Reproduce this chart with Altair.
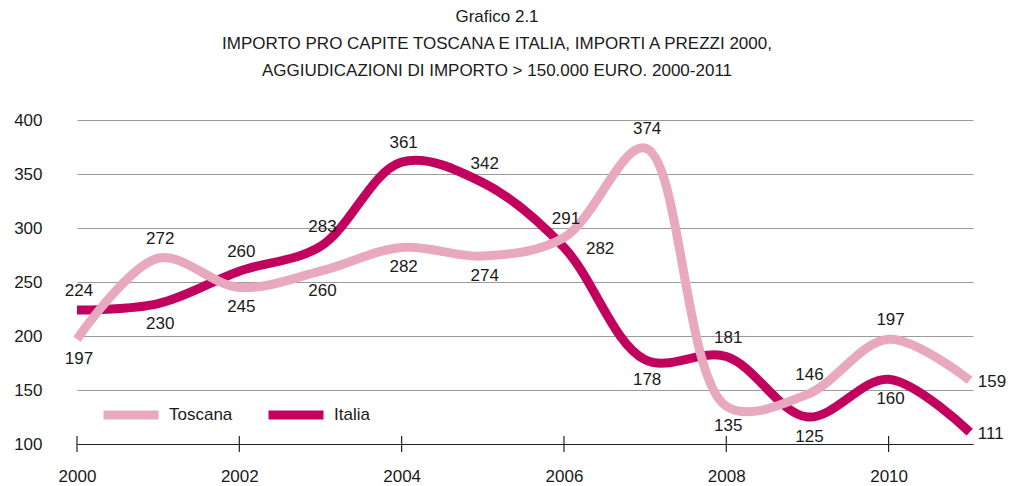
import altair as alt
import pandas as pd

years = list(range(2000, 2012))
toscana = [197, 272, 245, 260, 282, 274, 291, 374, 135, 146, 197, 159]
italia = [224, 230, 260, 283, 361, 342, 282, 178, 181, 125, 160, 111]
series_names = ["Toscana", "Italia"]
colors = ["#E8A9BF", "#C2005E"]
tick_years = [2000, 2002, 2004, 2006, 2008, 2010]
title_lines = [
    "Grafico 2.1",
    "IMPORTO PRO CAPITE TOSCANA E ITALIA, IMPORTI A PREZZI 2000,",
    "AGGIUDICAZIONI DI IMPORTO > 150.000 EURO. 2000-2011",
]

FONT = "Liberation Sans, Arial, sans-serif"

rows = []
for i, y in enumerate(years):
    t, it = toscana[i], italia[i]
    for name, v, other in (("Toscana", t, it), ("Italia", it, t)):
        if i == len(years) - 1:
            pos = "right"
        elif abs(v - other) < 15 and v < other:
            pos = "side"
        elif v >= other:
            pos = "above"
        else:
            pos = "below"
        rows.append({"year": y, "series": name, "value": v, "pos": pos})
df = pd.DataFrame(rows)
ticks_df = pd.DataFrame({"year": tick_years})

W, H = 896, 324
xscale = alt.Scale(domain=[2000, 2011.04], nice=False, zero=False)
yscale = alt.Scale(domain=[100, 400], nice=False, zero=False)
color = alt.Color(
    "series:N",
    scale=alt.Scale(domain=series_names, range=colors),
    sort=series_names,
    legend=alt.Legend(
        title=None, orient="none", direction="horizontal", legendX=22, legendY=263,
        symbolType="stroke", symbolSize=3025, symbolStrokeWidth=9,
        labelFontSize=17, labelFont=FONT, labelColor="#1a1a1a", labelOffset=6,
        columnPadding=17, padding=0,
    ),
)

base = alt.Chart(df)
x_enc = alt.X(
    "year:Q", scale=xscale,
    axis=alt.Axis(
        values=tick_years, format="d", title=None, grid=False, ticks=False,
        domainColor="#222", domainWidth=1.2, labelFontSize=17, labelFont=FONT,
        labelColor="#1a1a1a", labelPadding=24, labelFlush=False,
    ),
)
y_enc = alt.Y(
    "value:Q", scale=yscale,
    axis=alt.Axis(
        values=[100, 150, 200, 250, 300, 350, 400], title=None, domain=False,
        ticks=False, gridColor="#9a9a9a", gridWidth=1, labelFontSize=17,
        labelFont=FONT, labelColor="#1a1a1a", labelPadding=35,
    ),
)

lines = []
for name in ["Italia", "Toscana"]:
    lines.append(
        base.transform_filter(alt.datum.series == name)
        .mark_line(interpolate="catmull-rom", strokeWidth=9, strokeCap="butt")
        .encode(x=x_enc, y=y_enc, color=color)
    )

ticks = alt.Chart(ticks_df).mark_rule(color="#222", strokeWidth=1.2).encode(
    x=alt.X("year:Q", scale=xscale), y=alt.value(H - 8), y2=alt.value(H + 8)
)

def labels(pos, dx, dy, align="center"):
    return base.transform_filter(alt.datum.pos == pos).mark_text(
        fontSize=17, font=FONT, color="#1a1a1a", dx=dx, dy=dy, align=align
    ).encode(
        x=alt.X("year:Q", scale=xscale),
        y=alt.Y("value:Q", scale=yscale),
        text="value:Q",
    )

chart = alt.layer(
    ticks, *lines,
    labels("above", 2, -19), labels("below", 2, 20), labels("side", 22, 2, "left"),
    labels("right", 8, 2, "left"),
).properties(
    width=W, height=H,
    autosize=alt.AutoSizeParams(type="none"),
    padding={"left": 69, "top": 112, "right": 35, "bottom": 40},
    title=alt.TitleParams(
        text=title_lines, fontSize=17, font=FONT, fontWeight="normal",
        color="#1a1a1a", anchor="middle", dx=-28, offset=31, lineHeight=27,
    ),
).configure_view(stroke=None).configure_axis(labelFontWeight="normal")

chart.save("out.html", embed_options={"renderer": "svg", "actions": False})
